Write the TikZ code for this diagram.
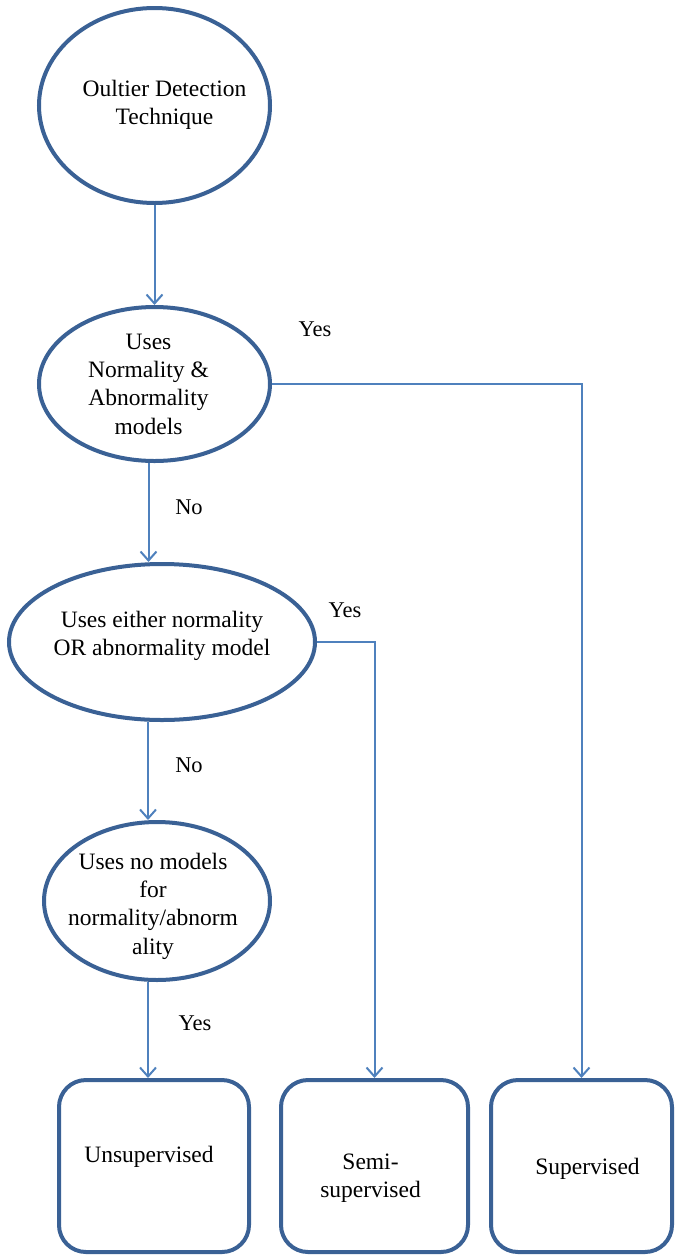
\documentclass[tikz,border=0pt]{standalone}
\usepackage{fontspec}
\setmainfont{Liberation Serif}
\usetikzlibrary{shapes.geometric,arrows.meta}
\definecolor{shapeblue}{HTML}{3A6195}
\definecolor{linkblue}{HTML}{4F81BD}
\tikzset{
  decision/.style={ellipse, draw=shapeblue, line width=4pt, inner sep=0pt},
  outcome/.style={rectangle, rounded corners=27pt, draw=shapeblue, line width=4pt, inner sep=0pt},
  caption/.style={align=center, inner sep=0pt, font=\fontsize{23.5}{28.3}\selectfont},
  conn/.style={draw=linkblue, line width=2pt, -{Straight Barb[length=9pt,width=16pt,line width=2pt]}},
  answer/.style={font=\fontsize{22.5}{26}\selectfont, inner sep=0pt}
}
\begin{document}
\begin{tikzpicture}[x=1pt,y=-1pt]
\useasboundingbox (0,0) rectangle (676,1256);

% decision ellipses
\node[decision, minimum width=231pt, minimum height=195pt] (e1) at (154.5,105.5) {};
\node[decision, minimum width=231pt, minimum height=154pt] (e2) at (154.5,384) {};
\node[decision, minimum width=306pt, minimum height=156pt] (e3) at (162,642) {};
\node[decision, minimum width=226pt, minimum height=158pt] (e4) at (157,901) {};

% their captions (shifts are in page units: positive yshift moves up)
\node[caption] (t1) at ([xshift=10pt,yshift=1pt]e1.center) {Oultier Detection\\Technique};
\node[caption] (t2) at ([xshift=-6pt]e2.center) {Uses\\Normality \&\\Abnormality\\models};
\node[caption] (t3) at ([yshift=6pt]e3.center) {Uses either normality\\OR abnormality model};
\node[caption] (t4) at ([xshift=-4pt,yshift=-5pt]e4.center) {Uses no models\\for\\normality/abnorm\\ality};

% outcome boxes
\node[outcome, minimum width=190pt, minimum height=172pt] (b1) at (154,1166) {};
\node[outcome, minimum width=187pt, minimum height=172pt] (b2) at (374.5,1166) {};
\node[outcome, minimum width=181pt, minimum height=172pt] (b3) at (581.5,1166) {};

\node[caption] (u1) at ([xshift=-5pt,yshift=9pt]b1.center) {Unsupervised};
\node[caption] (u2) at ([xshift=-4pt,yshift=-12pt]b2.center) {Semi-\\supervised};
\node[caption] (u3) at ([xshift=6pt,yshift=-3pt]b3.center) {Supervised};

% connectors
\draw[conn] (e1.south) -- (e2.north);
\draw[conn] ([xshift=-6pt]e2.south) -- ([xshift=-6pt]e2.south |- e3.north);
\draw[conn] ([xshift=-14pt]e3.south) -- ([xshift=-14pt]e3.south |- e4.north);
\draw[conn] ([xshift=-9pt]e4.south) -- ([xshift=-9pt]e4.south |- b1.north);
\draw[conn] (e2.east) -| (b3.north);
\draw[conn] (e3.east) -| (b2.north);

% branch labels
\node[answer] (y1) at (315,329) {Yes};
\node[answer] (n1) at (189,507) {No};
\node[answer] (y2) at (345,610) {Yes};
\node[answer] (n2) at (189,765) {No};
\node[answer] (y3) at (195,1023) {Yes};
\end{tikzpicture}
\end{document}
